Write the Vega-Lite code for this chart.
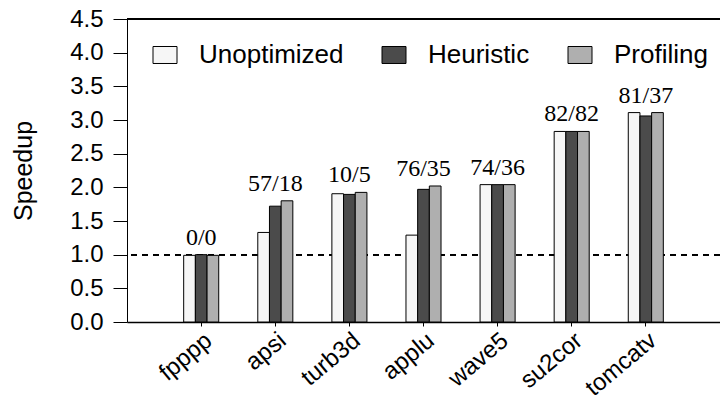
{
  "$schema": "https://vega.github.io/schema/vega-lite/v6.json",
  "width": 593,
  "height": 303,
  "autosize": {"type": "none"},
  "padding": {"left": 127, "top": 19, "right": 0, "bottom": 78},
  "background": "white",
  "config": {
    "view": {"stroke": null},
    "font": "Liberation Sans",
    "axis": {"labelColor": "black", "titleColor": "black", "domainColor": "black", "tickColor": "black", "grid": false},
    "axisY": {"tickSize": 14, "labelPadding": 10, "labelFontSize": 24, "labelFont": "Liberation Sans", "titleFontSize": 25, "titleFont": "Liberation Sans", "titleFontWeight": "normal", "titlePadding": 33}
  },
  "data": {
    "values": [
      {"bench": "fpppp", "series": "Unoptimized", "speedup": 0.99, "label": "0/0"},
      {"bench": "fpppp", "series": "Heuristic", "speedup": 1.0, "label": "0/0"},
      {"bench": "fpppp", "series": "Profiling", "speedup": 0.99, "label": "0/0"},
      {"bench": "apsi", "series": "Unoptimized", "speedup": 1.33, "label": "57/18"},
      {"bench": "apsi", "series": "Heuristic", "speedup": 1.72, "label": "57/18"},
      {"bench": "apsi", "series": "Profiling", "speedup": 1.8, "label": "57/18"},
      {"bench": "turb3d", "series": "Unoptimized", "speedup": 1.905, "label": "10/5"},
      {"bench": "turb3d", "series": "Heuristic", "speedup": 1.895, "label": "10/5"},
      {"bench": "turb3d", "series": "Profiling", "speedup": 1.925, "label": "10/5"},
      {"bench": "applu", "series": "Unoptimized", "speedup": 1.29, "label": "76/35"},
      {"bench": "applu", "series": "Heuristic", "speedup": 1.97, "label": "76/35"},
      {"bench": "applu", "series": "Profiling", "speedup": 2.02, "label": "76/35"},
      {"bench": "wave5", "series": "Unoptimized", "speedup": 2.04, "label": "74/36"},
      {"bench": "wave5", "series": "Heuristic", "speedup": 2.04, "label": "74/36"},
      {"bench": "wave5", "series": "Profiling", "speedup": 2.04, "label": "74/36"},
      {"bench": "su2cor", "series": "Unoptimized", "speedup": 2.83, "label": "82/82"},
      {"bench": "su2cor", "series": "Heuristic", "speedup": 2.83, "label": "82/82"},
      {"bench": "su2cor", "series": "Profiling", "speedup": 2.83, "label": "82/82"},
      {"bench": "tomcatv", "series": "Unoptimized", "speedup": 3.11, "label": "81/37"},
      {"bench": "tomcatv", "series": "Heuristic", "speedup": 3.06, "label": "81/37"},
      {"bench": "tomcatv", "series": "Profiling", "speedup": 3.11, "label": "81/37"}
    ]
  },
  "layer": [
    {
      "mark": {"type": "rule", "stroke": "black", "strokeWidth": 1, "strokeDash": [6, 5]},
      "encoding": {
        "y": {
          "datum": 1, "type": "quantitative", "title": "Speedup",
          "scale": {"domain": [0, 4.5], "nice": false},
          "axis": {"title": "Speedup", "values": [0, 0.5, 1, 1.5, 2, 2.5, 3, 3.5, 4, 4.5], "format": ".1f"}
        }
      }
    },
    {
      "mark": {"type": "rule", "stroke": "black", "strokeWidth": 1},
      "encoding": {
        "y": {
          "datum": 4.5, "type": "quantitative", "title": "Speedup",
          "axis": {"title": "Speedup", "values": [0, 0.5, 1, 1.5, 2, 2.5, 3, 3.5, 4, 4.5], "format": ".1f"}
        }
      }
    },
    {
      "mark": {"type": "bar", "stroke": "black", "strokeWidth": 1, "opacity": 1},
      "encoding": {
        "x": {
          "field": "bench", "type": "nominal",
          "sort": ["fpppp", "apsi", "turb3d", "applu", "wave5", "su2cor", "tomcatv"],
          "scale": {"paddingInner": 0.527, "paddingOuter": 0.765},
          "axis": {"title": null, "labelAngle": -40, "labelFontSize": 24, "labelFont": "Liberation Sans", "tickSize": 4, "domainWidth": 1.5, "labelPadding": 2, "labelAlign": "right", "labelBaseline": "top", "labelDx": 0}
        },
        "xOffset": {
          "field": "series", "type": "nominal",
          "sort": ["Unoptimized", "Heuristic", "Profiling"],
          "scale": {"paddingInner": 0, "paddingOuter": 0}
        },
        "y": {
          "field": "speedup", "type": "quantitative", "title": "Speedup",
          "axis": {"title": "Speedup", "values": [0, 0.5, 1, 1.5, 2, 2.5, 3, 3.5, 4, 4.5], "format": ".1f"}
        },
        "fill": {
          "field": "series", "type": "nominal",
          "scale": {"domain": ["Unoptimized", "Heuristic", "Profiling"], "range": ["#f6f6f6", "#4b4b4b", "#afafaf"]},
          "legend": {
            "orient": "none", "legendX": 25, "legendY": 23, "direction": "horizontal", "title": null, "padding": 0,
            "symbolType": "M-1,-0.708L1,-0.708L1,0.708L-1,0.708Z", "symbolSize": 576,
            "symbolStrokeColor": "black", "symbolStrokeWidth": 1, "symbolOpacity": 1,
            "labelFontSize": 26, "labelFont": "Liberation Sans", "labelColor": "black",
            "labelOffset": 21, "columnPadding": 36
          }
        }
      }
    },
    {
      "transform": [{"aggregate": [{"op": "max", "field": "speedup", "as": "top"}], "groupby": ["bench", "label"]}],
      "mark": {"type": "text", "font": "Liberation Serif", "fontSize": 24, "align": "center", "baseline": "alphabetic", "dy": -10, "color": "black"},
      "encoding": {
        "x": {"field": "bench", "type": "nominal", "sort": ["fpppp", "apsi", "turb3d", "applu", "wave5", "su2cor", "tomcatv"]},
        "y": {
          "field": "top", "type": "quantitative", "title": "Speedup",
          "axis": {"title": "Speedup", "values": [0, 0.5, 1, 1.5, 2, 2.5, 3, 3.5, 4, 4.5], "format": ".1f"}
        },
        "text": {"field": "label"}
      }
    }
  ]
}
